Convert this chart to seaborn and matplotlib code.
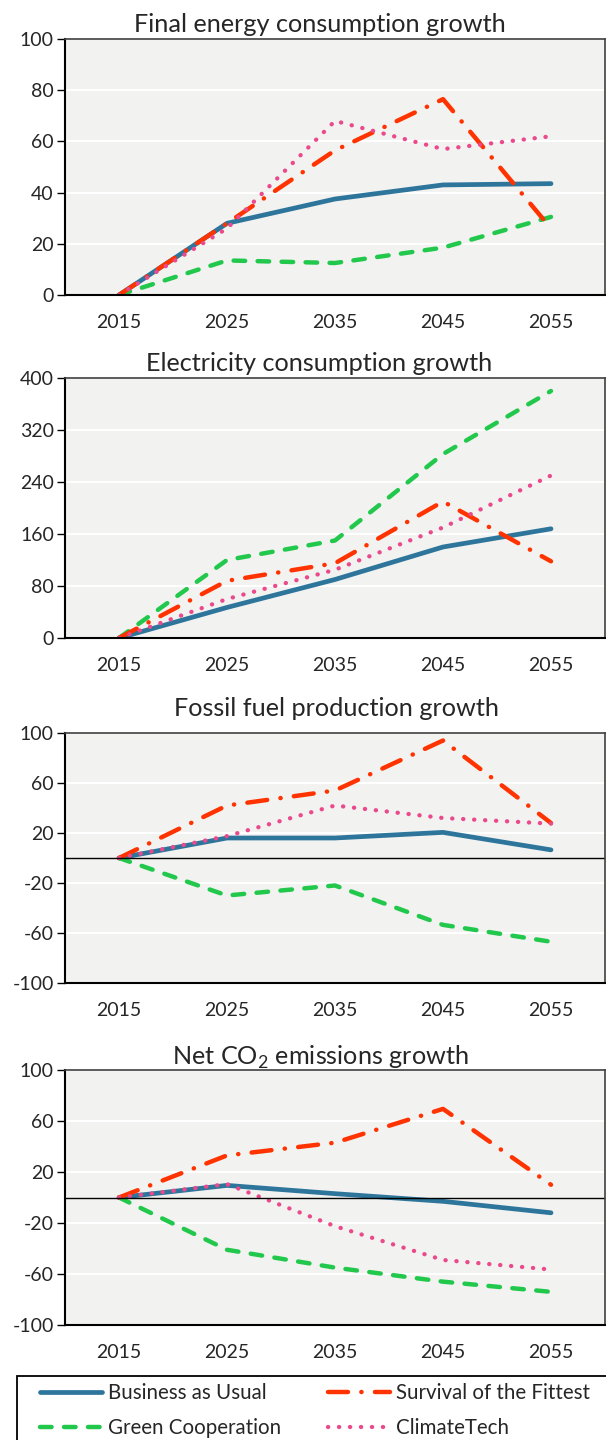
import numpy as np
import pandas as pd
import seaborn as sns
import matplotlib.pyplot as plt
from matplotlib.patches import Rectangle
from matplotlib.ticker import FixedLocator

# data
years = [2015, 2025, 2035, 2045, 2055]
scenarios = ['Business as Usual', 'Green Cooperation', 'Survival of the Fittest', 'ClimateTech']

final_energy = {
    'Business as Usual': [0, 28, 37.5, 43, 43.5],
    'Green Cooperation': [0, 13.5, 12.5, 18.5, 30.5],
    'Survival of the Fittest': [0, 28, 56.5, 76.5, 26],
    'ClimateTech': [0, 26, 68, 57, 62],
}
electricity = {
    'Business as Usual': [0, 47, 90, 140, 168],
    'Green Cooperation': [0, 120, 150, 283, 380],
    'Survival of the Fittest': [0, 88, 115, 210, 118],
    'ClimateTech': [0, 60, 105, 170, 250],
}
fossil = {
    'Business as Usual': [0, 16, 16, 20.5, 6.5],
    'Green Cooperation': [0, -30, -22, -53.5, -67],
    'Survival of the Fittest': [0, 42, 54, 94, 28],
    'ClimateTech': [0, 17.5, 42, 32, 27.5],
}
co2 = {
    'Business as Usual': [0, 9.5, 3, -3, -12],
    'Green Cooperation': [0, -41, -55, -66, -74],
    'Survival of the Fittest': [0, 33, 43, 69.5, 10],
    'ClimateTech': [0, 10.5, -22.5, -49, -56.5],
}

titles = ['Final energy consumption growth', 'Electricity consumption growth',
          'Fossil fuel production growth', 'Net CO$_2$ emissions growth']
panels = [final_energy, electricity, fossil, co2]
ylims = [(0, 100), (0, 400), (-100, 100), (-100, 100)]
yticks = [np.arange(0, 101, 20), np.arange(0, 401, 80),
          np.arange(-100, 101, 40), np.arange(-100, 101, 40)]

colors = {'Business as Usual': '#2e759c', 'Green Cooperation': '#22c84c',
          'Survival of the Fittest': '#ff3300', 'ClimateTech': '#ea4a8c'}
styles = {'Business as Usual': dict(lw=3.4, ls='-'),
          'Green Cooperation': dict(lw=3.2, ls=(0, (2.6, 2.8))),
          'Survival of the Fittest': dict(lw=3.2, ls=(0, (4.5, 3.0, 0.05, 3.0))),
          'ClimateTech': dict(lw=3.1, ls=(0, (0.05, 2.5)))}

sns.set_style('white')
plt.rcParams['font.family'] = ['Lato', 'DejaVu Sans']
plt.rcParams['mathtext.fontset'] = 'custom'
plt.rcParams['mathtext.rm'] = 'Lato'
plt.rcParams['axes.unicode_minus'] = False

fig = plt.figure(figsize=(6.06, 14.4), dpi=100)
W, H = 606, 1440
boxes = [(39, 295), (378, 638), (733, 983), (1070, 1325)]
title_x = [0.472, 0.47, 0.502, 0.472]
title_pad = [5, 5, 12, 4]

for i, (top, bot) in enumerate(boxes):
    ax = fig.add_axes([65 / W, 1 - bot / H, 540 / W, (bot - top) / H])
    ax.set_facecolor('#f2f2f0')
    data = panels[i]
    for s in scenarios:
        df = pd.DataFrame({'year': years, 'value': data[s]})
        sns.lineplot(data=df, x='year', y='value', ax=ax, color=colors[s],
                     linewidth=styles[s]['lw'], linestyle=styles[s]['ls'],
                     label=s, legend=False,
                     dash_capstyle='round', solid_capstyle='round')
    ax.set_xlim(2010, 2060)
    ax.set_ylim(*ylims[i])
    ax.set_yticks(yticks[i])
    ax.yaxis.grid(True, color='white', lw=1.5)
    ax.set_axisbelow(True)
    if i >= 2:
        ax.axhline(0, color='black', lw=1)
    ax.xaxis.set_major_locator(FixedLocator(np.arange(2010, 2061, 10)))
    ax.xaxis.set_minor_locator(FixedLocator(years))
    ax.xaxis.set_major_formatter(plt.NullFormatter())
    ax.set_xticklabels(years, minor=True)
    ax.tick_params(axis='x', which='minor', length=0, pad=14, labelsize=14)
    ax.tick_params(axis='x', which='major', length=6 if i < 2 else 0,
                   direction='out', color='black', width=1)
    ax.tick_params(axis='y', length=6, direction='out', color='black',
                   width=1, pad=2, labelsize=14, left=True)
    ax.set_xlabel('')
    ax.set_ylabel('')
    for side in ['left', 'bottom']:
        ax.spines[side].set_color('black')
        ax.spines[side].set_linewidth(1.5)
    for side in ['top', 'right']:
        ax.spines[side].set_color('#404040')
        ax.spines[side].set_linewidth(1.2)
    ax.set_title(titles[i], fontsize=18.2, pad=title_pad[i], x=title_x[i])

# legend box runs off the right and bottom edge like the reference
fig.add_artist(Rectangle((17 / W, 1 - 1480 / H), 620 / W, 104 / H,
                         transform=fig.transFigure, fill=False,
                         edgecolor='black', lw=1.3, clip_on=False))
handles = ax.get_lines()[:4]
fig.legend(handles, scenarios, ncol=2, loc='upper left',
           bbox_to_anchor=(40 / W, 1 - 1383 / H), fontsize=14.8,
           frameon=False, handlelength=3.0, columnspacing=2.3,
           borderpad=0, labelspacing=0.75, handletextpad=0.3, borderaxespad=0)

fig.savefig('out.png', dpi=100)
